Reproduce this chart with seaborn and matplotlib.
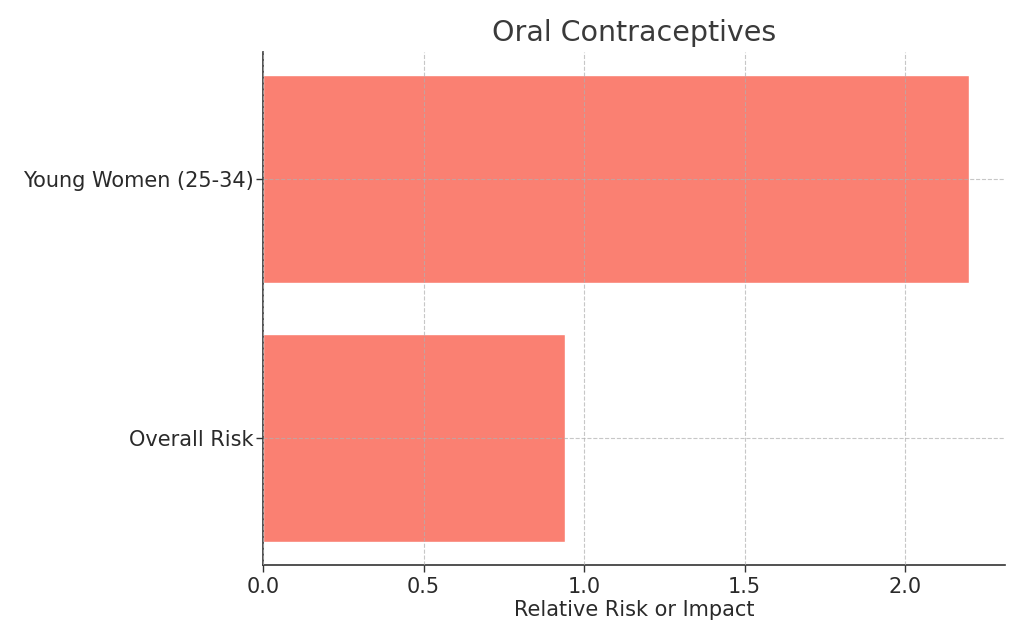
import matplotlib
matplotlib.use("Agg")
import matplotlib.pyplot as plt
import seaborn as sns
import pandas as pd

categories = ["Young Women (25-34)", "Overall Risk"]
values = [2.2, 0.94]
title = "Oral Contraceptives"
xlabel = "Relative Risk or Impact"

df = pd.DataFrame({"group": categories, "value": values})

sns.set_style("white")
plt.rcParams['font.family'] = ['DejaVu Sans']

fig = plt.figure(figsize=(10.24, 6.4), dpi=100)
ax = fig.add_axes([0.257, 0.117, 0.724, 0.802])
sns.barplot(data=df, x="value", y="group", order=categories, color="#FA8072",
            saturation=1, width=0.8, ax=ax)

ax.set_xlim(0, 2.31)
ax.set_ylim(1.49, -0.49)
ax.set_xticks([0.0, 0.5, 1.0, 1.5, 2.0])
ax.set_xticklabels(["0.0", "0.5", "1.0", "1.5", "2.0"])
ax.set_axisbelow(False)
ax.grid(True, linestyle="--", color="#b0b0b0", alpha=0.7, linewidth=0.8)
for s in ["top", "right"]:
    ax.spines[s].set_visible(False)
for s in ["left", "bottom"]:
    ax.spines[s].set_color("#333333")
    ax.spines[s].set_linewidth(1.2)
ax.tick_params(axis="both", labelsize=15, colors="#333333", labelcolor="#2a2a2a",
               length=5, width=1.0, left=True, bottom=True)
ax.tick_params(axis="y", pad=2)
ax.set_title(title, fontsize=20.5, color="#3a3a3a", pad=8)
ax.set_xlabel(xlabel, fontsize=15, color="#2a2a2a", labelpad=2)
ax.set_ylabel("")

fig.savefig("out.png", dpi=100)
